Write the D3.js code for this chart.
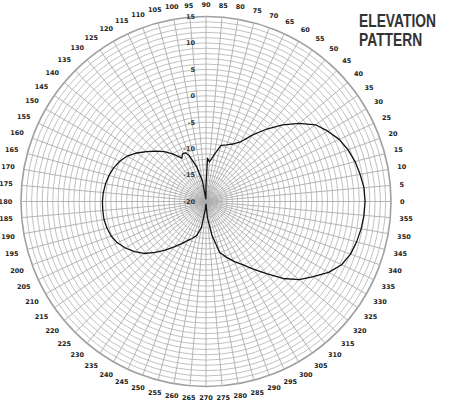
<!DOCTYPE html>
<html>
<head>
<meta charset="utf-8">
<script src="https://cdn.jsdelivr.net/npm/d3@7"></script>
<style>
  body { margin: 0; background: #fff; }
  svg { display: block; }
</style>
</head>
<body>
<svg id="chart" width="453" height="402"></svg>
<script>
// elevation pattern, angle in degrees (0 = right, counter-clockwise), gain in dB
const angles = [0, 5, 10, 15, 20, 25, 30, 35, 40, 45, 50, 55, 60, 65, 70, 75, 80, 85, 88, 90, 93,
  100, 105, 110, 113, 116, 119, 125, 130, 135, 140, 145, 150, 155, 160, 165, 170, 175,
  180, 185, 190, 195, 200, 205, 210, 215, 220, 225, 230, 235, 240, 245, 250, 255, 260,
  265, 270, 275, 280, 285, 290, 295, 300, 305, 310, 315, 320, 325, 330, 335, 340, 345,
  350, 355]
const gains = [10.1, 10.0, 9.6, 9.2, 8.6, 7.8, 6.6, 5.3, 3.0, 0.5, -2.1, -4.6, -7.0, -8.0, -8.6, -9.0, -11.0, -12.5, -11.8, -17, -19.5,
  -16, -13.2, -10.8, -10.0, -9.9, -10.6, -9.0, -7.7, -6.5, -5.3, -4.0, -2.8, -2.0, -1.4, -1.0, -0.7, -0.5,
  -0.4, -0.4, -0.4, -0.6, -0.9, -1.5, -2.4, -3.5, -4.7, -6.4, -8.0, -9.5, -10.8, -11.9, -12.6, -13.4, -15,
  -18.5, -19.5, -17, -13.5, -10, -8.8, -7.5, -6.2, -4.4, -2.2, 0.6, 3.0, 4.8, 6.8, 8.3, 9.1, 9.5,
  9.8, 10.0]
const dbTicks = [-20, -15, -10, -5, 0, 5, 10, 15]
const angleTicks = d3.range(0, 360, 5)
const titleLines = ['ELEVATION', 'PATTERN']

const cx = 206
const cy = 201.5
const R = 185

const svg = d3.select('#chart')
const g = svg.append('g').attr('transform', 'translate(' + cx + ',' + cy + ')')

const rScale = d3.scaleLinear().domain([-20, 15]).range([0, R])
const toRad = (deg) => (90 - deg) * Math.PI / 180   // d3 radial angle

// rings every 1 dB
g.append('g').selectAll('circle')
  .data(d3.range(-19, 16))
  .enter()
  .append('circle')
  .attr('r', (d) => rScale(d))
  .attr('fill', 'none')
  .attr('stroke', (d) => d === 15 ? '#a0a0a0' : '#bababa')
  .attr('stroke-width', (d) => d === 15 ? 1.6 : 0.9)

// spokes every 5 degrees
g.append('g').selectAll('line')
  .data(angleTicks)
  .enter()
  .append('line')
  .attr('x1', 0)
  .attr('y1', 0)
  .attr('x2', (d) => R * Math.cos(d * Math.PI / 180))
  .attr('y2', (d) => -R * Math.sin(d * Math.PI / 180))
  .attr('stroke', '#adadad')
  .attr('stroke-width', 0.9)

// dB labels along the vertical axis
g.append('g').selectAll('text')
  .data(dbTicks)
  .enter()
  .append('text')
  .attr('x', -11)
  .attr('y', (d) => -rScale(d))
  .attr('dy', '0.35em')
  .attr('text-anchor', 'end')
  .attr('font-family', 'DejaVu Sans, sans-serif')
  .attr('font-weight', 'bold')
  .attr('font-size', 6.5)
  .attr('fill', '#333')
  .text((d) => d)

// angle labels
const r0 = 194
g.append('g').selectAll('text')
  .data(angleTicks)
  .enter()
  .append('text')
  .attr('transform', (d) => {
    const a = d * Math.PI / 180
    const w = String(d).length * 4.4
    const off = w / 2 * Math.abs(Math.cos(a)) + 2.6 * Math.abs(Math.sin(a))
    const rr = r0 + off
    return 'translate(' + (rr * Math.cos(a)) + ',' + (-rr * Math.sin(a)) + ')'
  })
  .attr('dy', '0.35em')
  .attr('text-anchor', 'middle')
  .attr('font-family', 'DejaVu Sans, sans-serif')
  .attr('font-weight', 'bold')
  .attr('font-size', 6.5)
  .attr('fill', '#222')
  .text((d) => d)

// pattern curve
const line = d3.lineRadial()
  .angle((d, i) => toRad(angles[i]))
  .radius((d, i) => rScale(gains[i]))
  .curve(d3.curveLinearClosed)

g.append('path')
  .datum(gains)
  .attr('d', line)
  .attr('fill', 'none')
  .attr('stroke', '#111')
  .attr('stroke-width', 1.3)
  .attr('stroke-linejoin', 'round')

// title, squeezed horizontally to look condensed
svg.append('g').selectAll('text')
  .data(titleLines)
  .enter()
  .append('text')
  .attr('transform', (d, i) => 'translate(359,' + (27 + i * 19) + ') scale(0.79,1)')
  .attr('font-family', 'Liberation Sans, Arial, sans-serif')
  .attr('font-weight', 'bold')
  .attr('font-size', 17.5)
  .attr('fill', '#333')
  .text((d) => d)
</script>
</body>
</html>
